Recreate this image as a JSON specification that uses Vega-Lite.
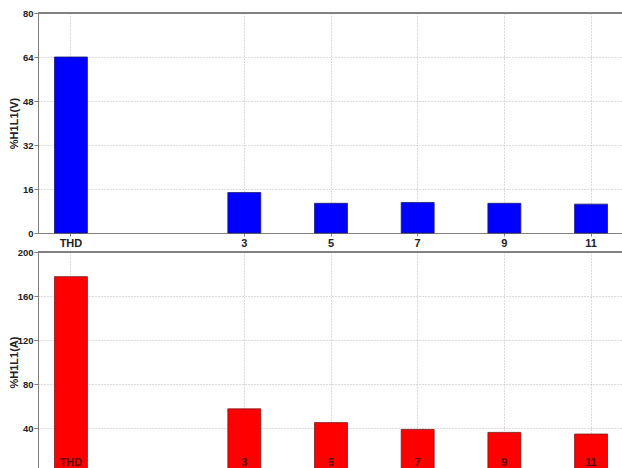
{
  "$schema": "https://vega.github.io/schema/vega-lite/v6.json",
  "padding": {"left": 8, "top": 8, "right": 0, "bottom": 0},
  "background": "white",
  "spacing": 19,
  "bounds": "flush",
  "config": {
    "view": {"stroke": null},
    "font": "Liberation Sans",
    "axis": {
      "labelFont": "Liberation Sans",
      "titleFont": "Liberation Sans",
      "labelFontWeight": "bold",
      "titleFontWeight": "bold",
      "labelColor": "#222222",
      "titleColor": "#222222",
      "domainColor": "#808080",
      "tickColor": "#808080",
      "gridColor": "#b8b8b8",
      "gridDash": [1, 2],
      "gridWidth": 1
    }
  },
  "datasets": {
    "v": [
      {"h": "THD", "value": 64},
      {"h": "3", "value": 14.7},
      {"h": "5", "value": 10.8},
      {"h": "7", "value": 11.1},
      {"h": "9", "value": 10.8},
      {"h": "11", "value": 10.5}
    ],
    "a": [
      {"h": "THD", "value": 177.6},
      {"h": "3", "value": 57.4},
      {"h": "5", "value": 44.9},
      {"h": "7", "value": 38.7},
      {"h": "9", "value": 36},
      {"h": "11", "value": 34.5}
    ]
  },
  "vconcat": [
    {
      "width": 586,
      "height": 220,
      "data": {"name": "v"},
      "layer": [
        {
          "mark": {"type": "rule", "color": "#808080", "strokeWidth": 1},
          "encoding": {"y": {"datum": 80, "type": "quantitative"}}
        },
        {
          "mark": {"type": "bar", "color": "#0000ff", "stroke": "#1a1a6e", "strokeWidth": 0.8},
          "encoding": {
            "x": {
              "field": "h", "type": "nominal", "sort": null,
              "scale": {"domain": ["THD", "1", "3", "5", "7", "9", "11"], "paddingInner": 0.62, "paddingOuter": 0.19},
              "axis": {"title": null, "values": ["THD", "3", "5", "7", "9", "11"], "labelAngle": 0, "grid": true, "tickSize": 3, "labelPadding": 1, "labelFontSize": 11}
            },
            "y": {
              "field": "value", "type": "quantitative",
              "scale": {"domain": [0, 80], "nice": false},
              "axis": {"title": "%H1L1(V)", "values": [0, 16, 32, 48, 64, 80], "grid": true, "tickSize": 4, "labelPadding": 1, "labelFontSize": 9.5, "titleFontSize": 11, "titlePadding": 1, "minExtent": 18, "maxExtent": 18}
            }
          }
        }
      ]
    },
    {
      "width": 586,
      "height": 220,
      "data": {"name": "a"},
      "resolve": {"axis": {"x": "independent"}},
      "layer": [
        {
          "mark": {"type": "rule", "color": "#808080", "strokeWidth": 1},
          "encoding": {"y": {"datum": 200, "type": "quantitative"}}
        },
        {
          "mark": {"type": "bar", "color": "#ff0000", "stroke": "#7a1a1a", "strokeWidth": 0.8},
          "encoding": {
            "x": {
              "field": "h", "type": "nominal", "sort": null,
              "scale": {"domain": ["THD", "1", "3", "5", "7", "9", "11"], "paddingInner": 0.62, "paddingOuter": 0.19},
              "axis": {"title": null, "orient": "bottom", "values": ["THD", "3", "5", "7", "9", "11"], "grid": true, "labels": false, "tickSize": 3}
            },
            "y": {
              "field": "value", "type": "quantitative",
              "scale": {"domain": [0, 200], "nice": false},
              "axis": {"title": "%H1L1(A)", "values": [0, 40, 80, 120, 160, 200], "grid": true, "tickSize": 4, "labelPadding": 1, "labelFontSize": 9.5, "titleFontSize": 11, "titlePadding": 1, "minExtent": 18, "maxExtent": 18}
            }
          }
        },
        {
          "mark": {"type": "bar", "opacity": 0},
          "encoding": {
            "x": {
              "field": "h", "type": "nominal", "sort": null,
              "axis": {"title": null, "orient": "bottom", "values": ["THD", "3", "5", "7", "9", "11"], "labelAngle": 0, "grid": false, "domain": false, "ticks": false, "labelPadding": -16, "labelFontSize": 11, "labelColor": "#5c0000", "zindex": 2}
            },
            "y": {"field": "value", "type": "quantitative"}
          }
        }
      ]
    }
  ]
}
